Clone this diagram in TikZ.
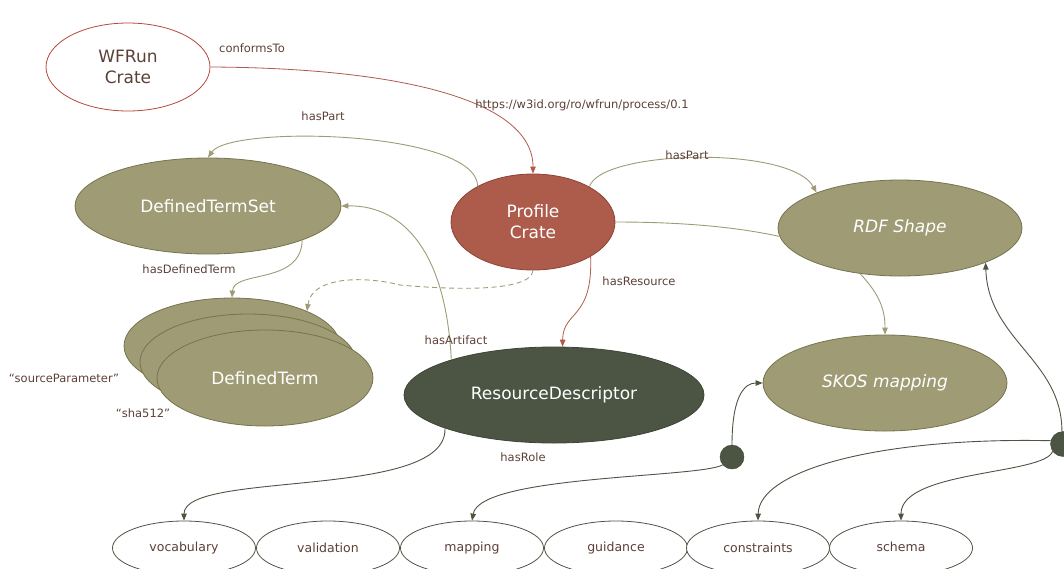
\documentclass[tikz,border=0pt]{standalone}
\usepackage{fontspec}
\setmainfont{DejaVu Sans}
\usetikzlibrary{shapes.geometric,arrows.meta}
\definecolor{cOlive}{HTML}{9E9B75}
\definecolor{cOliveD}{HTML}{76744F}
\definecolor{cRed}{HTML}{AD5B4B}
\definecolor{cRedD}{HTML}{8E4436}
\definecolor{cWf}{HTML}{B5493B}
\definecolor{cDark}{HTML}{4C5543}
\definecolor{cDarkD}{HTML}{3C4435}
\definecolor{cTxt}{HTML}{5C4038}
\begin{document}
\begin{tikzpicture}[x=1pt,y=-1pt,
  ell/.style={ellipse, inner sep=0pt, line width=0.8pt},
  bigtxt/.style={font=\fontsize{17}{21}\selectfont, align=center},
  wfN/.style={ell, bigtxt, draw=cWf, fill=white, text=cTxt},
  redN/.style={ell, bigtxt, draw=cRedD, fill=cRed, text=white},
  olN/.style={ell, bigtxt, draw=cOliveD, fill=cOlive, text=white},
  dkN/.style={ell, bigtxt, draw=cDarkD, fill=cDark, text=white},
  roleN/.style={ell, draw=cDark, fill=white, text=cTxt, minimum width=143, minimum height=54,
     font=\fontsize{12.5}{15}\selectfont},
  hubN/.style={circle, inner sep=0pt, draw=cDarkD, fill=cDark, minimum size=24},
  lbl/.style={text=cTxt, font=\fontsize{11.5}{14}\selectfont, inner sep=0pt},
  tip/.style={-{Triangle[length=7pt,width=5.5pt]}},
  eRed/.style={draw=cRed, line width=0.8pt},
  eOl/.style={draw=cOlive, line width=0.9pt},
  eDk/.style={draw=cDark, line width=0.9pt},
]
\useasboundingbox (0,0) rectangle (1064,568);

% nodes
\node[wfN, minimum width=164, minimum height=88] (wf) at (128,67) {WFRun\\Crate};
\node[redN, minimum width=164, minimum height=96] (pc) at (533,222) {Profile\\Crate};
\node[olN, minimum width=266, minimum height=96] (dts) at (208,206) {DefinedTermSet};
\node[olN, minimum width=216, minimum height=96] (dt1) at (232,346) {};
\node[olN, minimum width=216, minimum height=96] (dt2) at (248,362) {};
\node[olN, minimum width=216, minimum height=96] (dt3) at (265,378) {DefinedTerm};
\node[olN, minimum width=244, minimum height=96, font=\fontsize{17}{21}\selectfont\itshape] (rdf) at (900,228) {RDF Shape};
\node[olN, minimum width=244, minimum height=96, font=\fontsize{17}{21}\selectfont\itshape] (skos) at (885,383) {SKOS mapping};
\node[dkN, minimum width=300, minimum height=96] (rd) at (554,395) {ResourceDescriptor};
\node[hubN] (h1) at (732,457) {};
\node[hubN, minimum size=25] (h2) at (1063,444) {};

\node[roleN] (voc) at (184,548) {vocabulary};
\node[roleN] (val) at (328,548) {validation};
\node[roleN] (map) at (472,548) {mapping};
\node[roleN] (gui) at (616,548) {\raisebox{2pt}{guidance}};
\node[roleN] (con) at (758,548) {constraints};
\node[roleN] (sch) at (901,548) {\raisebox{2pt}{schema}};

\coordinate (dm) at (400,285);

% edges
\draw[eRed, tip] (wf.east) .. controls (400,68) and (533,100) .. (pc.north);
\draw[eOl, tip] (pc.147) .. controls (476,130) and (230,125) .. (dts.north);
\draw[eOl, tip] (pc.32) .. controls (600,150) and (790,145) .. (rdf.157);
\draw[eOl] (pc.east) .. controls (700,222) and (750,230) .. (rdf.184);
\draw[eOl, tip] (dts.-20) .. controls (301,285) and (234,270) .. (dt1.north);
\draw[eOl, tip, dash pattern=on 5pt off 3.5pt] (pc.south) .. controls (531,292) and (455,290) .. (dm)
   .. controls (365,276) and (312,276) .. (dt1.25);
\draw[eOl, tip] (rd.161) .. controls (445,240) and (395,205) .. (dts.east);
\draw[eRed, tip] (pc.-31) .. controls (593,320) and (563,310) .. (rd.80);
\draw[eDk, tip] (rd.197) .. controls (448,500) and (184,470) .. (voc.north);
\draw[eOl, tip] (rdf.229) .. controls (880,295) and (885,310) .. (skos.north);
\draw[eDk, tip] (h1.north) .. controls (732,395) and (745,383) .. (skos.west);
\draw[eDk, tip] (h1.220) .. controls (700,478) and (480,475) .. (map.north);
\draw[eDk, tip] (h2.95) .. controls (1062,360) and (988,340) .. (rdf.-22);
\draw[eDk, tip] (h2.165) .. controls (880,437) and (759,470) .. (con.north);
\draw[eDk, tip] (h2.215) .. controls (1045,475) and (901,470) .. (sch.north);

% labels
\node[lbl] (l1) at (252,48) {conformsTo};
\node[lbl] (l2) at (582,105) {https://w3id.org/ro/wfrun/process/0.1};
\node[lbl] (l3) at (323,116) {hasPart};
\node[lbl] (l4) at (687,155) {hasPart};
\node[lbl] (l5) at (189,269) {hasDefinedTerm};
\node[lbl] (l6) at (639,281) {hasResource};
\node[lbl] (l7) at (456,340) {hasArtifact};
\node[lbl] (l8) at (523,457) {hasRole};
\node[lbl] (l9) at (64,378) {“sourceParameter”};
\node[lbl] (l10) at (143,413) {“sha512”};
\end{tikzpicture}
\end{document}
